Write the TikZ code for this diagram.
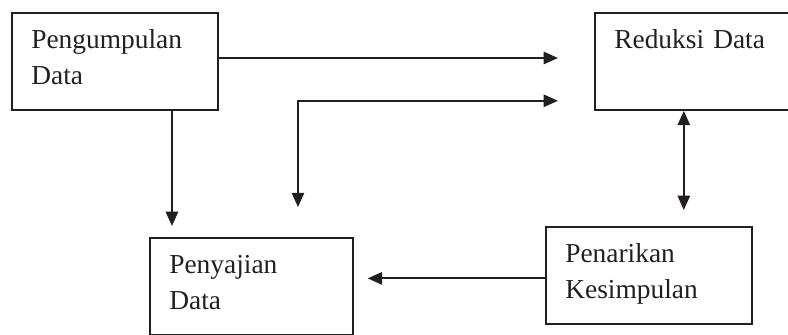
\documentclass[tikz,border=0pt]{standalone}
\usepackage{fontspec}
\setmainfont{Liberation Serif}
\usetikzlibrary{arrows.meta,calc}
\definecolor{flowdark}{RGB}{35,31,32}
\tikzset{
  flow box/.style={
    draw=flowdark,
    line width=0.8pt,
    anchor=north west,
    inner xsep=8.5pt,
    inner ysep=0pt,
    text height=15.8pt,
    text depth=26.7pt,
    align=left,
    text=flowdark,
    font=\fontsize{12}{15.5}\selectfont,
  },
  flow arrow/.style={
    -{Triangle[length=2.2mm,width=1.9mm]},
    line width=0.8pt,
    draw=flowdark,
  },
  flow both/.style={
    {Triangle[length=2.2mm,width=1.9mm]}-{Triangle[length=2.2mm,width=1.9mm]},
    line width=0.8pt,
    draw=flowdark,
  },
}
\begin{document}
\begin{tikzpicture}[x=0.438pt,y=0.438pt]
  \useasboundingbox (0,0) rectangle (788,335);

  \node[flow box, text width=73.2pt] (pengumpulan) at (11,323)
    {Pengumpulan\\Data};
  \node[flow box, text width=73.2pt] (reduksi) at (594,323)
    {Reduksi Data};
  \node[flow box, text width=71.9pt] (penyajian) at (149,98)
    {Penyajian\\Data};
  \node[flow box, text width=73.2pt] (penarikan) at (545,109)
    {Penarikan\\Kesimpulan};

  \coordinate (pg) at ([xshift=25pt]pengumpulan.south);
  \coordinate (pj) at ([xshift=20.4pt]penyajian.north);
  \coordinate (rd) at ([yshift=4.4pt]reduksi.south west);
  \coordinate (pk) at ([xshift=15.3pt]penarikan.north);

  \draw[flow arrow, shorten >=15.8pt] ([yshift=1.5pt]pengumpulan.east) -- ([yshift=1.5pt]reduksi.west);
  \draw[flow arrow, shorten >=4.8pt] (pg) -- (pg |- penyajian.north);
  \draw[flow both, shorten <=13.1pt, shorten >=15.8pt] (pj) |- (rd);
  \draw[flow both, shorten >=7pt] (pk |- reduksi.south) -- (pk);
  \draw[flow arrow, shorten >=6.1pt] ([yshift=-1.3pt]penarikan.west) -- ([yshift=-1.3pt]penarikan.west -| penyajian.east);
\end{tikzpicture}
\end{document}
